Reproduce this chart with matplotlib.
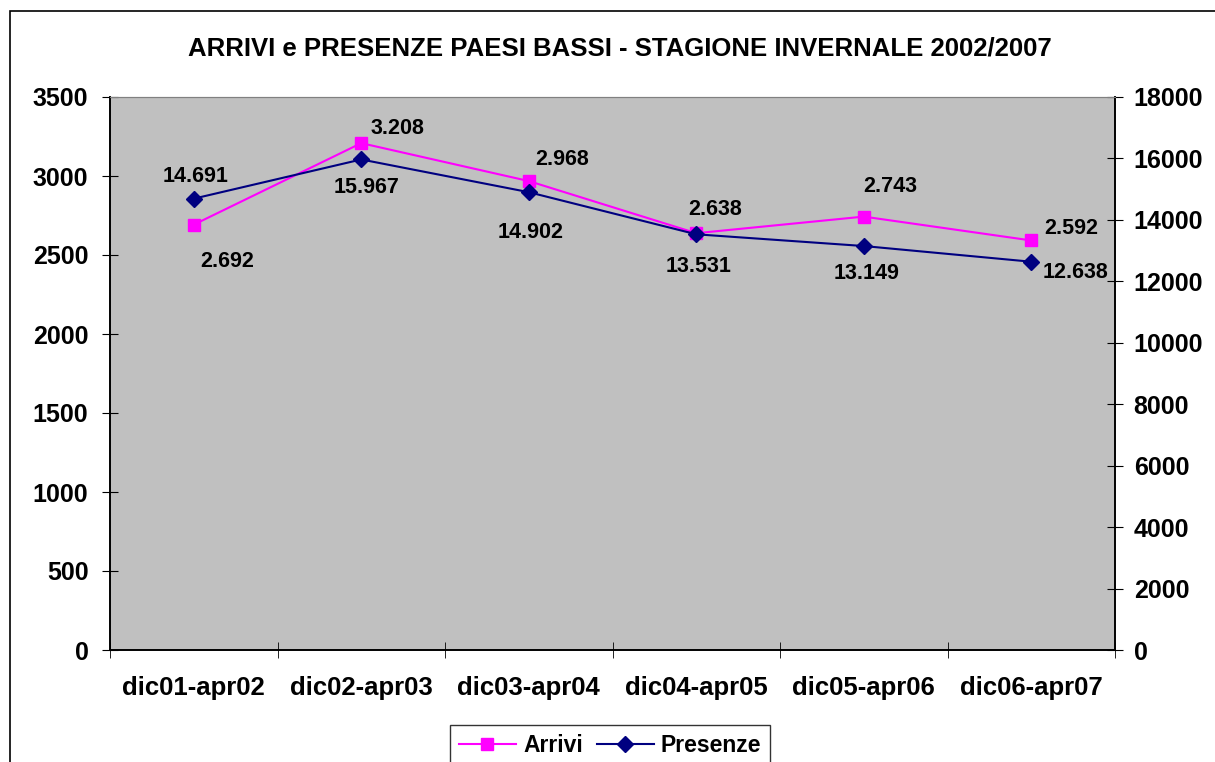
import numpy as np
import matplotlib
matplotlib.use('Agg')
import matplotlib.pyplot as plt
from matplotlib.patches import Rectangle

plt.rcParams['font.family'] = ['Liberation Sans', 'DejaVu Sans']
plt.rcParams['font.weight'] = 'bold'

stagioni = ['dic01-apr02', 'dic02-apr03', 'dic03-apr04', 'dic04-apr05', 'dic05-apr06', 'dic06-apr07']
arrivi = [2692, 3208, 2968, 2638, 2743, 2592]
presenze = [14691, 15967, 14902, 13531, 13149, 12638]

# label offsets in pixels (dx, dy)
off_arrivi = [(33, -37), (36, 15), (33, 22), (19, 24), (27, 30), (40, 12)]
off_presenze = [(2, 22), (5, -28), (2, -40), (2, -32), (3, -27), (44, -11)]

def fmt(v):
    return f"{v:,}".replace(',', '.')

fig = plt.figure(figsize=(12.15, 7.62), dpi=100)
fig.patches.append(Rectangle((10 / 1215, -0.1), 1.2, 1 - 11 / 762 + 0.1,
                             transform=fig.transFigure, fill=False,
                             edgecolor='black', linewidth=1.2, clip_on=False))

ax = fig.add_axes([110 / 1215, 1 - 650 / 762, 1005 / 1215, 553 / 762])
ax2 = ax.twinx()
ax.set_facecolor('#C0C0C0')

x = np.arange(len(stagioni))
l1, = ax.plot(x, arrivi, color='#FF00FF', lw=1.5, marker='s', ms=8.5, label='Arrivi')
l2, = ax2.plot(x, presenze, color='#000080', lw=1.5, marker='D', ms=8, label='Presenze')

for i, v in enumerate(arrivi):
    ax.annotate(fmt(v), (x[i], v), xytext=off_arrivi[i], textcoords='offset pixels',
                ha='center', va='center', fontsize=15.5, fontweight='bold')
for i, v in enumerate(presenze):
    ax2.annotate(fmt(v), (x[i], v), xytext=off_presenze[i], textcoords='offset pixels',
                 ha='center', va='center', fontsize=15.5, fontweight='bold')

ax.set_xlim(-0.5, len(stagioni) - 0.5)
ax.set_ylim(0, 3500)
ax2.set_ylim(0, 18000)
ax.set_yticks(np.arange(0, 3501, 500))
ax2.set_yticks(np.arange(0, 18001, 2000))

ax.set_xticks(x)
ax.set_xticklabels(stagioni)
ax.set_xticks(np.arange(-0.5, len(stagioni)), minor=True)
ax.tick_params(axis='x', which='major', length=0, pad=19, labelsize=18.5)
ax.tick_params(axis='x', which='minor', direction='inout', length=11)
ax.tick_params(axis='y', direction='inout', length=11, pad=10, labelsize=18)
ax2.tick_params(axis='y', direction='inout', length=11, pad=8, labelsize=18)
for t in ax.get_xticklabels() + ax.get_yticklabels() + ax2.get_yticklabels():
    t.set_fontweight('bold')

for a in (ax, ax2):
    a.spines['top'].set_color('#808080')
    for s in ('left', 'right', 'bottom'):
        a.spines[s].set_color('black')
        a.spines[s].set_linewidth(1.2)

fig.text(620 / 1215, 1 - 48 / 762, 'ARRIVI e PRESENZE PAESI BASSI - STAGIONE INVERNALE 2002/2007',
         ha='center', va='center', fontsize=18.5, fontweight='bold')

leg = fig.legend([l1, l2], ['Arrivi', 'Presenze'], loc='upper center',
                 bbox_to_anchor=(610 / 1215, 1 - 725 / 762), ncol=2, frameon=True,
                 fancybox=False, edgecolor='black', fontsize=16.5, handlelength=2.5,
                 columnspacing=0.6, handletextpad=0.3, borderaxespad=0)
leg.get_frame().set_linewidth(1.0)
for t in leg.get_texts():
    t.set_fontweight('bold')

fig.savefig('out.png', dpi=100)
